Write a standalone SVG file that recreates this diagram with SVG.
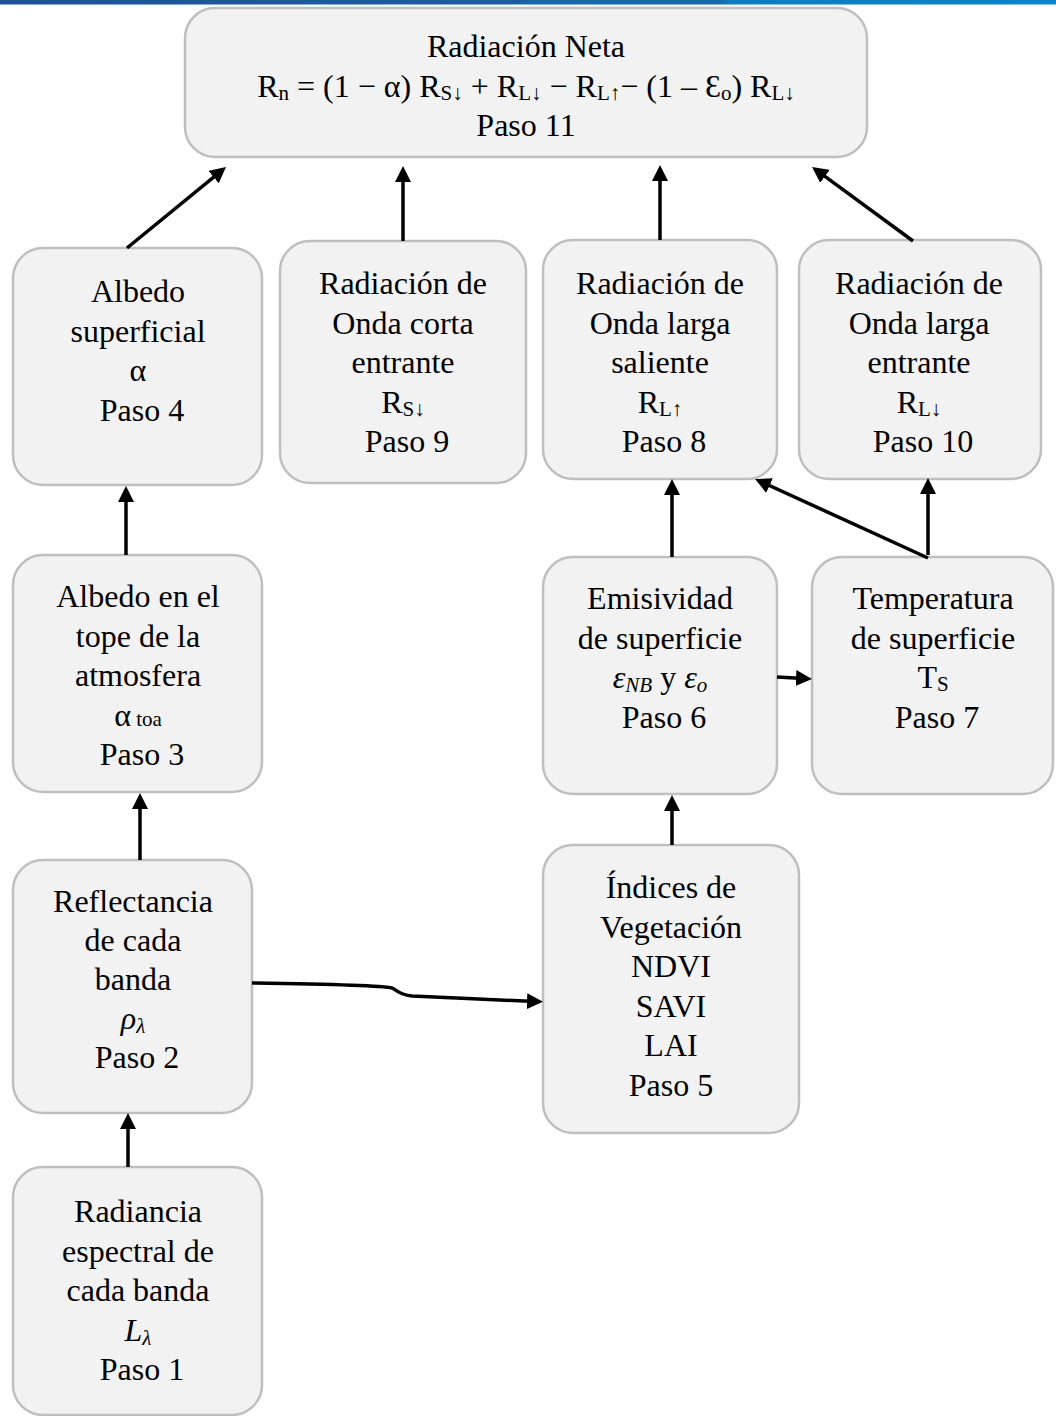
<svg xmlns="http://www.w3.org/2000/svg" width="1056" height="1416" viewBox="0 0 1056 1416">
<style>
.box{fill:#f2f2f2;stroke:#bfbfbf;stroke-width:2.5}
.t{font-family:"Liberation Serif","DejaVu Serif",serif;font-size:32px;fill:#000;text-anchor:middle}
.sub{font-size:21px}
.it{font-style:italic}
.c{fill:none;stroke:#000;stroke-width:3.5}
</style>
<defs>
<linearGradient id="bar" x1="0" y1="0" x2="1" y2="0">
<stop offset="0" stop-color="#1c5495"/>
<stop offset="0.49" stop-color="#1b5ea0"/>
<stop offset="0.5" stop-color="#1768a8"/>
<stop offset="0.68" stop-color="#1469a8"/>
<stop offset="0.69" stop-color="#0c7cbf"/>
<stop offset="1" stop-color="#0a86c8"/>
</linearGradient>
<marker id="ah" markerUnits="userSpaceOnUse" markerWidth="16" markerHeight="16" viewBox="0 0 16 16" refX="8" refY="8" orient="auto">
<path d="M0,0 L16,8 L0,16 z" fill="#000"/>
</marker>
</defs>
<rect x="0" y="0" width="1056" height="4.5" fill="url(#bar)"/>

<g id="n11">
<rect class="box" x="185" y="8" width="682" height="149" rx="30"/>
<text class="t" x="526" y="57">Radiación Neta</text>
<text class="t" x="526" y="97">R<tspan class="sub" dy="3">n</tspan><tspan dy="-3"> = (1 − α) R</tspan><tspan class="sub" dy="3">S↓</tspan><tspan dy="-3"> + R</tspan><tspan class="sub" dy="3">L↓</tspan><tspan dy="-3"> − R</tspan><tspan class="sub" dy="3">L↑</tspan><tspan dy="-3">− (1 – Ɛ</tspan><tspan class="sub" dy="3">o</tspan><tspan dy="-3">) R</tspan><tspan class="sub" dy="3">L↓</tspan></text>
<text class="t" x="526" y="136">Paso 11</text>
</g>

<g id="n4">
<rect class="box" x="13" y="248" width="249" height="237" rx="30"/>
<text class="t" x="138" y="302">Albedo</text>
<text class="t" x="138" y="341.5">superficial</text>
<text class="t" x="138" y="381">α</text>
<text class="t" x="142" y="420.5">Paso 4</text>
</g>

<g id="n9">
<rect class="box" x="280" y="241" width="246" height="242" rx="30"/>
<text class="t" x="403" y="294">Radiación de</text>
<text class="t" x="403" y="333.5">Onda corta</text>
<text class="t" x="403" y="373">entrante</text>
<text class="t" x="403" y="412.5">R<tspan class="sub" dy="3">S↓</tspan></text>
<text class="t" x="407" y="452">Paso 9</text>
</g>

<g id="n8">
<rect class="box" x="543" y="240" width="234" height="239" rx="30"/>
<text class="t" x="660" y="294">Radiación de</text>
<text class="t" x="660" y="333.5">Onda larga</text>
<text class="t" x="660" y="373">saliente</text>
<text class="t" x="660" y="412.5">R<tspan class="sub" dy="3">L↑</tspan></text>
<text class="t" x="664" y="452">Paso 8</text>
</g>

<g id="n10">
<rect class="box" x="799" y="240" width="242" height="239" rx="30"/>
<text class="t" x="919" y="294">Radiación de</text>
<text class="t" x="919" y="333.5">Onda larga</text>
<text class="t" x="919" y="373">entrante</text>
<text class="t" x="919" y="412.5">R<tspan class="sub" dy="3">L↓</tspan></text>
<text class="t" x="923" y="452">Paso 10</text>
</g>

<g id="n3">
<rect class="box" x="13" y="555" width="249" height="237" rx="30"/>
<text class="t" x="138" y="607">Albedo en el</text>
<text class="t" x="138" y="646.5">tope de la</text>
<text class="t" x="138" y="686">atmosfera</text>
<text class="t" x="138" y="725.5">α<tspan class="sub"> toa</tspan></text>
<text class="t" x="142" y="765">Paso 3</text>
</g>

<g id="n6">
<rect class="box" x="543" y="557" width="234" height="237" rx="30"/>
<text class="t" x="660" y="609">Emisividad</text>
<text class="t" x="660" y="648.5">de superficie</text>
<text class="t" x="660" y="688"><tspan class="it">ε</tspan><tspan class="sub it" dy="4">NB</tspan><tspan dy="-4"> y </tspan><tspan class="it">ε</tspan><tspan class="sub it" dy="4">o</tspan></text>
<text class="t" x="664" y="727.5">Paso 6</text>
</g>

<g id="n7">
<rect class="box" x="812" y="557" width="241" height="237" rx="30"/>
<text class="t" x="933" y="609">Temperatura</text>
<text class="t" x="933" y="648.5">de superficie</text>
<text class="t" x="933" y="688">T<tspan class="sub" dy="3">S</tspan></text>
<text class="t" x="937" y="727.5">Paso 7</text>
</g>

<g id="n2">
<rect class="box" x="13" y="860" width="239" height="253" rx="30"/>
<text class="t" x="133" y="912">Reflectancia</text>
<text class="t" x="133" y="951">de cada</text>
<text class="t" x="133" y="990">banda</text>
<text class="t" x="133" y="1029"><tspan class="it">ρ</tspan><tspan class="sub it" dy="4">λ</tspan></text>
<text class="t" x="137" y="1068">Paso 2</text>
</g>

<g id="n5">
<rect class="box" x="543" y="845" width="256" height="288" rx="30"/>
<text class="t" x="671" y="898">Índices de</text>
<text class="t" x="671" y="937.5">Vegetación</text>
<text class="t" x="671" y="977">NDVI</text>
<text class="t" x="671" y="1016.5">SAVI</text>
<text class="t" x="671" y="1056">LAI</text>
<text class="t" x="671" y="1095.5">Paso 5</text>
</g>

<g id="n1">
<rect class="box" x="13" y="1167" width="249" height="248" rx="30"/>
<text class="t" x="138" y="1222">Radiancia</text>
<text class="t" x="138" y="1261.5">espectral de</text>
<text class="t" x="138" y="1301">cada banda</text>
<text class="t" x="138" y="1340.5"><tspan class="it">L</tspan><tspan class="sub it" dy="4">λ</tspan></text>
<text class="t" x="142" y="1380">Paso 1</text>
</g>

<g id="connectors">
<line class="c" x1="127" y1="248" x2="219.8" y2="172.1" marker-end="url(#ah)"/>
<line class="c" x1="403" y1="241" x2="403" y2="174" marker-end="url(#ah)"/>
<line class="c" x1="660" y1="240" x2="660" y2="173" marker-end="url(#ah)"/>
<line class="c" x1="913" y1="241" x2="818.5" y2="171.7" marker-end="url(#ah)"/>
<line class="c" x1="126" y1="555" x2="126" y2="494" marker-end="url(#ah)"/>
<line class="c" x1="140" y1="860" x2="140" y2="801" marker-end="url(#ah)"/>
<line class="c" x1="128" y1="1167" x2="128" y2="1121" marker-end="url(#ah)"/>
<path class="c" d="M252,983 C320,984 380,985 392,988 C398,991 400,995 412,996 C450,998 500,1000 535,1001.5" marker-end="url(#ah)"/>
<line class="c" x1="672" y1="845" x2="672" y2="803" marker-end="url(#ah)"/>
<line class="c" x1="672" y1="557" x2="672" y2="487" marker-end="url(#ah)"/>
<line class="c" x1="777" y1="677" x2="804" y2="678.5" marker-end="url(#ah)"/>
<line class="c" x1="928" y1="558" x2="762.3" y2="482.3" marker-end="url(#ah)"/>
<line class="c" x1="928" y1="555" x2="928" y2="486" marker-end="url(#ah)"/>
</g>
</svg>
